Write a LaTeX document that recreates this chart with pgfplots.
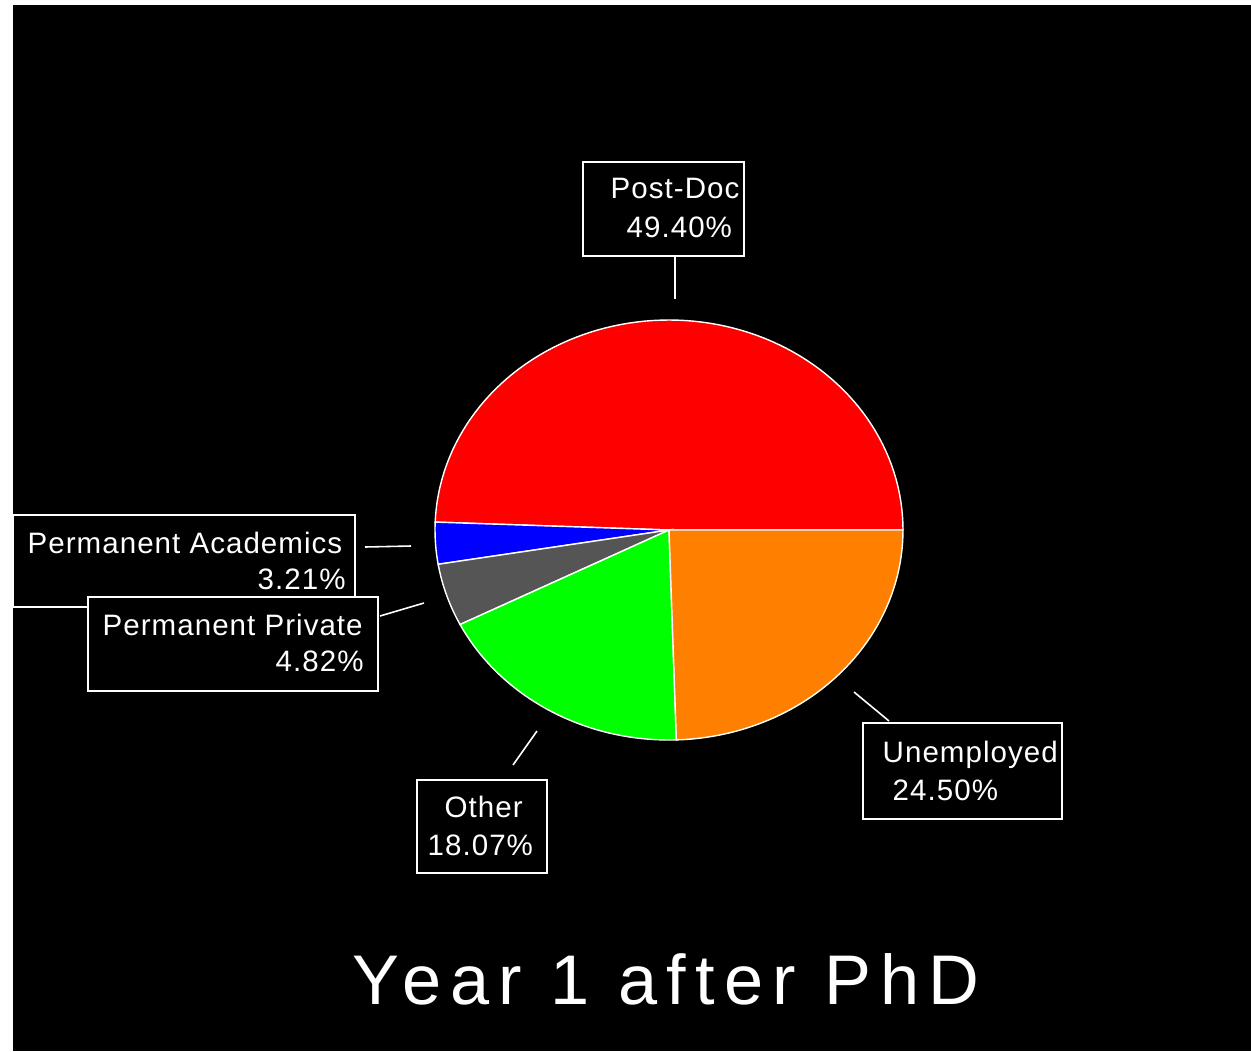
\documentclass[border=0pt]{standalone}
\usepackage{pgfplots}
\pgfplotsset{compat=1.18}
\usepackage{fontspec}
\setmainfont{Liberation Sans}
\definecolor{pgray}{RGB}{85,85,85}
\definecolor{porange}{RGB}{255,128,0}
\newcommand\lab{\fontsize{8.4}{10}\selectfont\addfontfeature{LetterSpace=3.5}}
\newcommand\ttl{\fontsize{20}{24}\selectfont\addfontfeature{LetterSpace=13}}
% shares in percent
\def\vPostDoc{49.40}
\def\vAcad{3.21}
\def\vPriv{4.82}
\def\vOther{18.07}
\def\vUnemp{24.50}
\begin{document}%
\begin{tikzpicture}
\pgfmathsetmacro{\aA}{0}
\pgfmathsetmacro{\aB}{\aA+\vPostDoc*3.6}
\pgfmathsetmacro{\aC}{\aB+\vAcad*3.6}
\pgfmathsetmacro{\aD}{\aC+\vPriv*3.6}
\pgfmathsetmacro{\aE}{\aD+\vOther*3.6}
\pgfmathsetmacro{\aF}{\aE+\vUnemp*3.6}
\begin{axis}[width=12.51cm,height=10.51cm,scale only axis,
  xmin=0,xmax=1251,ymin=0,ymax=1051,y dir=reverse,hide axis,clip=false]
\fill[white] (axis cs:0,0) rectangle (axis cs:1251,1051);
\fill[black] (axis cs:13,5) rectangle (axis cs:1251,1051);
% pie sectors
\addplot[draw=white,line width=0.4pt,fill=red,domain=\aA:\aB,samples=90,variable=\t]
  ({669+234*cos(\t)},{530-210*sin(\t)}) -- (axis cs:669,530) -- cycle;
\addplot[draw=white,line width=0.4pt,fill=blue,domain=\aB:\aC,samples=10,variable=\t]
  ({669+234*cos(\t)},{530-210*sin(\t)}) -- (axis cs:669,530) -- cycle;
\addplot[draw=white,line width=0.4pt,fill=pgray,domain=\aC:\aD,samples=12,variable=\t]
  ({669+234*cos(\t)},{530-210*sin(\t)}) -- (axis cs:669,530) -- cycle;
\addplot[draw=white,line width=0.4pt,fill=green,domain=\aD:\aE,samples=40,variable=\t]
  ({669+234*cos(\t)},{530-210*sin(\t)}) -- (axis cs:669,530) -- cycle;
\addplot[draw=white,line width=0.4pt,fill=porange,domain=\aE:\aF,samples=50,variable=\t]
  ({669+234*cos(\t)},{530-210*sin(\t)}) -- (axis cs:669,530) -- cycle;
% leader lines
\draw[white,line width=0.45pt] (axis cs:675,257) -- (axis cs:675,299);
\draw[white,line width=0.45pt] (axis cs:365,547) -- (axis cs:411,546);
\draw[white,line width=0.45pt] (axis cs:380,616) -- (axis cs:424,603);
\draw[white,line width=0.45pt] (axis cs:513,765) -- (axis cs:537,731);
\draw[white,line width=0.45pt] (axis cs:854,692) -- (axis cs:889,721);
% boxes
\draw[white,fill=black,line width=0.45pt] (axis cs:583,162) rectangle (axis cs:744,256);
\draw[white,fill=black,line width=0.45pt] (axis cs:13,515) rectangle (axis cs:355,607);
\draw[white,fill=black,line width=0.45pt] (axis cs:88,597) rectangle (axis cs:378,691);
\draw[white,fill=black,line width=0.45pt] (axis cs:417,780) rectangle (axis cs:547,873);
\draw[white,fill=black,line width=0.45pt] (axis cs:863,723) rectangle (axis cs:1062,819);
% texts
\tikzset{lt/.style={white,anchor=base west,inner sep=0pt,font=\lab}}
\node[lt] at (axis cs:610,198) {Post-Doc};
\node[lt] at (axis cs:626,237) {49.40\%};
\node[lt] at (axis cs:27,553) {Permanent Academics};
\node[lt] at (axis cs:257,589) {3.21\%};
\node[lt] at (axis cs:102,635) {Permanent Private};
\node[lt] at (axis cs:275,671) {4.82\%};
\node[lt] at (axis cs:444,817) {Other};
\node[lt] at (axis cs:427,855) {18.07\%};
\node[lt] at (axis cs:882,762) {Unemployed};
\node[lt] at (axis cs:892,800) {24.50\%};
\node[white,anchor=base west,inner sep=0pt,font=\ttl] at (axis cs:352,1004) {Year 1 after PhD};
\end{axis}
\end{tikzpicture}%
\end{document}
